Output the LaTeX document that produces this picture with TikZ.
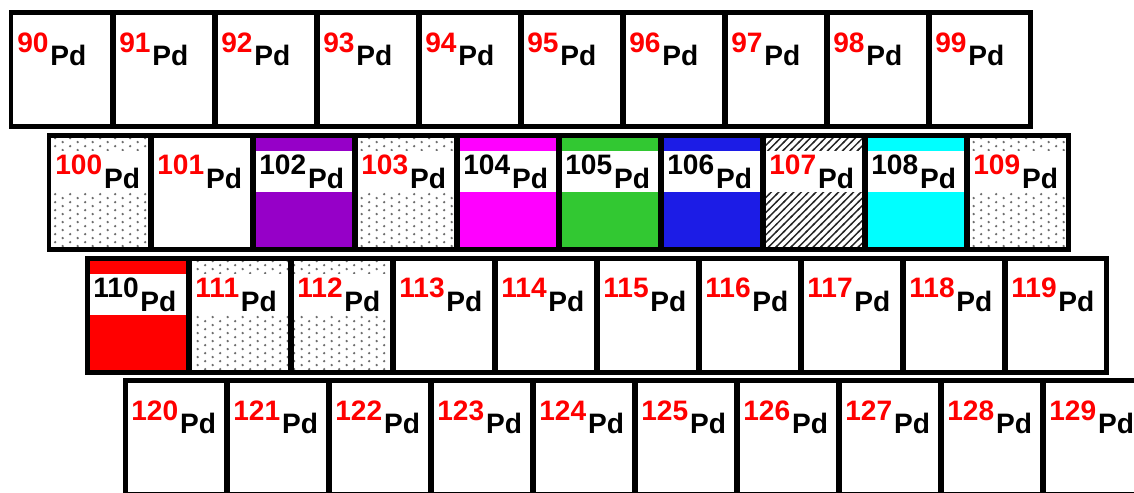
\documentclass[tikz,border=0pt]{standalone}
\usepackage{fontspec}
\setmainfont{Liberation Sans}
\usepackage{xcolor}
\usetikzlibrary{calc,patterns.meta}
\definecolor{numred}{RGB}{255,0,0}
\definecolor{pdpurple}{RGB}{150,0,200}
\definecolor{pdmagenta}{RGB}{255,0,255}
\definecolor{pdgreen}{RGB}{50,200,50}
\definecolor{pdblue}{RGB}{28,28,230}
\definecolor{pdcyan}{RGB}{0,255,255}
\definecolor{pdred}{RGB}{255,0,0}
\definecolor{dotgray}{RGB}{110,110,110}
\tikzdeclarepattern{
  name=pddots,
  type=uncolored,
  bottom left={(0pt,0pt)},
  top right={(8.5pt,4.5pt)},
  tile size={(8.5pt,4.5pt)},
  code={
    \fill (2.1pt,1.1pt) circle (0.75pt);
    \fill (6.35pt,3.35pt) circle (0.75pt);
  }
}
\tikzdeclarepattern{
  name=pdhatch,
  type=uncolored,
  bottom left={(-1pt,-1pt)},
  top right={(5.25pt,5.25pt)},
  tile size={(4.25pt,4.25pt)},
  code={
    \draw[line width=0.8pt] (-0.5pt,-0.5pt) -- (4.75pt,4.75pt);
  }
}
\tikzset{
  cell/.style={
    draw,
    line width=0.1cm,
    outer sep=0pt,
    inner sep=0pt,
    minimum width=2.04cm,
    minimum height=2.28cm,
    anchor=north west,
    fill=white,
    path picture={
      \fill[white] ($(path picture bounding box.north west)+(0,-0.32cm)$)
        rectangle ($(path picture bounding box.north east)+(0,-1.14cm)$);
    }
  },
  iso/.style={
    anchor=base west,
    inner sep=0pt,
    font=\fontsize{16pt}{19pt}\selectfont\bfseries
  },
  kplain/.style={},
  kdots/.style={pattern=pddots,pattern color=dotgray},
  khatch/.style={pattern=pdhatch,pattern color=black!85},
  kpurple/.style={fill=pdpurple},
  kmagenta/.style={fill=pdmagenta},
  kgreen/.style={fill=pdgreen},
  kblue/.style={fill=pdblue},
  kcyan/.style={fill=pdcyan},
  kred/.style={fill=pdred}
}
\begin{document}
\begin{tikzpicture}[x=0.02cm,y=-0.02cm]
  \path[use as bounding box,fill=white] (0,0) rectangle (1134,493);
  % one entry per isotope: mass / cell look / colour of the mass number
  \foreach \m/\kind/\ncol in {
    90/kplain/numred,91/kplain/numred,92/kplain/numred,93/kplain/numred,94/kplain/numred,
    95/kplain/numred,96/kplain/numred,97/kplain/numred,98/kplain/numred,99/kplain/numred,
    100/kdots/numred,101/kplain/numred,102/kpurple/black,103/kdots/numred,104/kmagenta/black,
    105/kgreen/black,106/kblue/black,107/khatch/numred,108/kcyan/black,109/kdots/numred,
    110/kred/black,111/kdots/numred,112/kdots/numred,113/kplain/numred,114/kplain/numred,
    115/kplain/numred,116/kplain/numred,117/kplain/numred,118/kplain/numred,119/kplain/numred,
    120/kplain/numred,121/kplain/numred,122/kplain/numred,123/kplain/numred,124/kplain/numred,
    125/kplain/numred,126/kplain/numred,127/kplain/numred,128/kplain/numred,129/kplain/numred} {
    \pgfmathtruncatemacro{\row}{(\m-90)/10}
    \pgfmathtruncatemacro{\col}{\m-90-10*\row}
    \node[cell,\kind] (c\m) at (11+38*\row+102*\col,12.5+122.8*\row) {};
    \node[iso] (t\m) at ($(c\m.north west)+(6,53)$)
      {\textcolor{\ncol}{\raisebox{7.6pt}{\m}}\kern1pt Pd};
  }
\end{tikzpicture}
\end{document}
